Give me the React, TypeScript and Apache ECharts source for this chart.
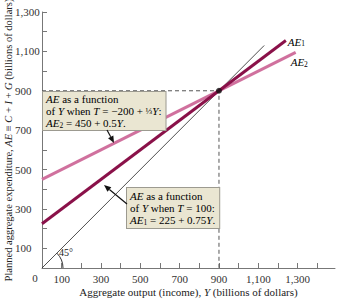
import React, { useEffect, useRef } from "react";
import * as echarts from "echarts";

const xTicks = [0, 100, 200, 300, 400, 500, 600, 700, 800, 900, 1000, 1100, 1200, 1300, 1400];
const xLabels = [100, 300, 500, 700, 900, 1100, 1300];
const yTicks = [0, 100, 200, 300, 400, 500, 600, 700, 800, 900, 1000, 1100, 1200, 1300];
const yLabels = [100, 300, 500, 700, 900, 1100, 1300];

const diagonal = [[0, 0], [1130, 1130]];
const ae1 = [[0, 225], [1240, 1155]];
const ae2 = [[0, 450], [1290, 1095]];
const guide = [[0, 900], [900, 900], [900, 0]];
const equilibrium = [[900, 900]];

const FONT = "Liberation Serif";
const AE1_COLOR = "#8A1149";
const AE2_COLOR = "#D0719E";

const rich = {
  n: { fontFamily: FONT, fontSize: 11, color: "#222", lineHeight: 12 },
  i: { fontFamily: FONT, fontSize: 11, fontStyle: "italic", color: "#222", lineHeight: 12 },
  s: { fontFamily: FONT, fontSize: 7.5, color: "#222", lineHeight: 6, verticalAlign: "bottom" },
  f: { fontFamily: FONT, fontSize: 9, color: "#222", lineHeight: 12 },
};

function arrow(p0: number[], p1: number[]) {
  const dx = p1[0] - p0[0];
  const dy = p1[1] - p0[1];
  const len = Math.sqrt(dx * dx + dy * dy);
  const ux = dx / len, uy = dy / len;
  const hl = 7, hw = 3;
  const bx = p1[0] - ux * hl, by = p1[1] - uy * hl;
  return [
    { type: "line", shape: { x1: p0[0], y1: p0[1], x2: bx, y2: by }, style: { stroke: "#111", lineWidth: 1.2 }, z: 20 },
    {
      type: "polygon",
      shape: { points: [[p1[0], p1[1]], [bx - uy * hw, by + ux * hw], [bx + uy * hw, by - ux * hw]] },
      style: { fill: "#111" },
      z: 20,
    },
  ];
}

export default function App() {
  const ref = useRef<HTMLDivElement>(null);
  useEffect(() => {
    if (!ref.current) return;
    document.body.style.margin = "0";
    const chart = echarts.init(ref.current, undefined, { renderer: "svg" });
    const axisCommon = {
      type: "value",
      interval: 100,
      axisLine: { show: true, lineStyle: { color: "#777", width: 1 } },
      splitLine: { show: false },
    };
    chart.setOption({
      animation: false,
      grid: { left: 42, right: 6, top: 12, bottom: 32, outerBoundsMode: "none", containLabel: false },
      xAxis: {
        ...axisCommon,
        min: 0,
        max: 1490,
        axisTick: { show: true, inside: true, length: 5, customValues: xTicks, lineStyle: { color: "#777" } },
        axisLabel: {
          customValues: xLabels,
          fontFamily: FONT,
          fontSize: 11,
          color: "#333",
          margin: 5,
          formatter: (v: number) => v.toLocaleString("en-US"),
        },
        name: "{n|Aggregate output (income), }{i|Y}{n| (billions of dollars)}",
        nameLocation: "middle",
        nameGap: 18,
        nameMoveOverlap: false,
        nameTextStyle: { rich },
      },
      yAxis: {
        ...axisCommon,
        min: 0,
        max: 1300,
        axisTick: { show: true, inside: true, length: 5, customValues: yTicks, lineStyle: { color: "#777" } },
        axisLabel: {
          customValues: yLabels,
          fontFamily: FONT,
          fontSize: 11,
          color: "#333",
          align: "left",
          margin: 27,
          formatter: (v: number) => v.toLocaleString("en-US"),
        },
        name:
          "{n|Planned aggregate expenditure, }{i|AE}{n| ≡ }{i|C}{n| + }{i|I}{n| + }{i|G}{n| (billions of dollars)}",
        nameLocation: "middle",
        nameGap: 28,
        nameRotate: 90,
        nameMoveOverlap: false,
        nameTextStyle: {
          rich: {
            n: { ...rich.n, fontSize: 10.5 },
            i: { ...rich.i, fontSize: 10.5 },
          },
        },
      },
      series: [
        {
          type: "line",
          data: diagonal,
          symbol: "none",
          lineStyle: { color: "#222", width: 0.8 },
          z: 2,
        },
        {
          type: "line",
          data: guide,
          symbol: "none",
          lineStyle: { color: "#555", width: 1, type: [4, 3] },
          z: 1,
        },
        {
          type: "line",
          data: ae2,
          symbol: "none",
          lineStyle: { color: AE2_COLOR, width: 3 },
          z: 3,
        },
        {
          type: "line",
          data: ae1,
          symbol: "none",
          lineStyle: { color: AE1_COLOR, width: 3 },
          z: 4,
        },
        {
          type: "scatter",
          data: equilibrium,
          symbolSize: 6,
          itemStyle: { color: "#111" },
          z: 5,
        },
      ],
    });

    const o = chart.convertToPixel({ gridIndex: 0 }, [0, 0]) as number[];
    const e1 = chart.convertToPixel({ gridIndex: 0 }, ae1[1]) as number[];
    const e2 = chart.convertToPixel({ gridIndex: 0 }, ae2[1]) as number[];

    chart.setOption({
      graphic: [
        {
          type: "text",
          x: o[0] - 7,
          y: o[1] + 10,
          style: { text: "0", font: `11px "${FONT}"`, fill: "#333", align: "center", verticalAlign: "middle" },
        },
        {
          type: "arc",
          shape: { cx: o[0], cy: o[1], r: 21, startAngle: -Math.PI / 4, endAngle: 0 },
          style: { stroke: "#333", lineWidth: 1, fill: null },
        },
        {
          type: "text",
          x: o[0] + 17,
          y: o[1] - 16,
          style: { text: "45°", font: `10px "${FONT}"`, fill: "#222", align: "left", verticalAlign: "middle" },
        },
        {
          type: "text",
          x: e1[0] + 2,
          y: e1[1] + 1,
          style: { text: "{i|AE}{s|1}", rich, align: "left", verticalAlign: "middle" },
        },
        {
          type: "text",
          x: e2[0] - 5,
          y: e2[1] + 10,
          style: { text: "{i|AE}{s|2}", rich, align: "left", verticalAlign: "middle" },
        },
        {
          type: "text",
          x: 43,
          y: 92,
          z: 10,
          style: {
            text: "{i|AE}{n| as a function}\n{n|of }{i|Y}{n| when }{i|T}{n| = −200 + }{f|⅓}{i|Y}{n|:}\n{i|AE}{s|2}{n| = 450 + 0.5}{i|Y}{n|.}",
            rich,
            backgroundColor: "#EAE6D2",
            borderColor: "#9C9A90",
            borderWidth: 1,
            padding: [1, 4, 1, 3],
          },
        },
        ...arrow([107, 130], [114, 143]),
        {
          type: "text",
          x: 127,
          y: 188,
          z: 10,
          style: {
            text: "{i|AE}{n| as a function}\n{n|of }{i|Y}{n| when }{i|T}{n| = 100:}\n{i|AE}{s|1}{n| = 225 + 0.75}{i|Y}{n|.}",
            rich,
            backgroundColor: "#EAE6D2",
            borderColor: "#9C9A90",
            borderWidth: 1,
            padding: [2, 4, 2, 3],
          },
        },
        ...arrow([127, 204], [104, 185]),
      ],
    });
    return () => chart.dispose();
  }, []);
  return <div ref={ref} style={{ width: 341, height: 300 }} />;
}
